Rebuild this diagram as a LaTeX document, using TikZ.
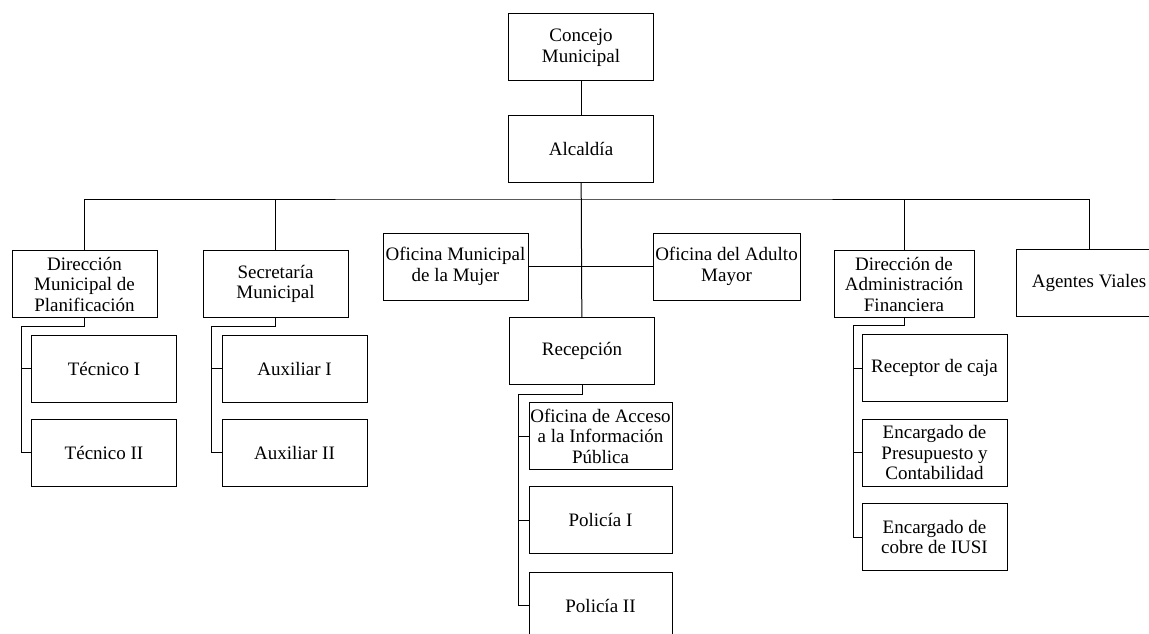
\documentclass[tikz,border=0pt]{standalone}
\usepackage{fontspec}
\setmainfont{Liberation Serif}
\usepackage{tikz}
\usetikzlibrary{positioning}

\begin{document}
\begin{tikzpicture}[x=1pt,y=-1pt,
  unidad/.style={draw,line width=1pt,minimum width=145pt,minimum height=67pt,
    inner sep=1pt,align=center,font=\fontsize{19}{20.5}\selectfont},
  rama/.style={line width=1pt}]

\useasboundingbox (0,0) rectangle (1149,634);
\clip (0,0) rectangle (1149,634);

%top of the chart
\node[unidad] (concejo) at (581,47.5) {Concejo\\Municipal};
\node[unidad] (alcaldia) at (581,148.5) {Alcaldía};

%second level
\node[unidad] (dmp) at (84.5,284) {Dirección\\Municipal de\\Planificación};
\node[unidad] (secre) at (275.5,284) {Secretaría\\Municipal};
\node[unidad] (mujer) at (455.5,266.5) {Oficina Municipal\\de la Mujer};
\node[unidad,minimum width=147pt] (adulto) at (726.5,266.5) {Oficina del Adulto\\Mayor};
\node[unidad] (recep) at (582,351) {Recepción};
\node[unidad,minimum width=140pt] (daf) at (904,284) {Dirección de\\Administración\\Financiera};
\node[unidad,minimum width=146pt] (agentes) at (1089,283) {Agentes Viales};

%third level
\node[unidad] (tec1) at (104,368.5) {Técnico I};
\node[unidad] (tec2) at (104,452.5) {Técnico II};
\node[unidad] (aux1) at (294.5,368.5) {Auxiliar I};
\node[unidad] (aux2) at (294.5,452.5) {Auxiliar II};
\node[unidad,minimum width=143pt] (acceso) at (600.5,436) {Oficina de Acceso\\a la Información\\Pública};
\node[unidad,minimum width=143pt] (pol1) at (600.5,520) {Policía I};
\node[unidad,minimum width=143pt] (pol2) at (600.5,605.5) {Policía II};
\node[unidad] (caja) at (934.5,368) {Receptor de caja};
\node[unidad] (presup) at (934.5,452.5) {Encargado de\\Presupuesto y\\Contabilidad};
\node[unidad] (iusi) at (934.5,537) {Encargado de\\cobre de IUSI};

%main connectors
\coordinate (bus) at (581,199);
\draw[rama] (concejo) -- (alcaldia);
\draw[rama] (alcaldia) -- (recep);
\draw[rama] (dmp.north) |- (bus) -| (agentes.north);
\draw[rama] (secre.north) -- (secre.north |- bus);
\draw[rama] (daf.north) -- (daf.north |- bus);
\draw[rama] (mujer.east) -- (adulto.west);

%branches below each unit
\draw[rama] (dmp.south) -- ++(0,8) -| ([xshift=-10pt]tec2.west) -- (tec2.west);
\draw[rama] (tec1.west) -- ++(-10,0);
\draw[rama] (secre.south) -- ++(0,8) -| ([xshift=-10pt]aux2.west) -- (aux2.west);
\draw[rama] (aux1.west) -- ++(-10,0);
\draw[rama] (recep.south) -- ++(0,9) -| ([xshift=-10pt]pol2.west) -- (pol2.west);
\draw[rama] (acceso.west) -- ++(-10,0);
\draw[rama] (pol1.west) -- ++(-10,0);
\draw[rama] (daf.south) -- ++(0,7) -| ([xshift=-8pt]iusi.west) -- (iusi.west);
\draw[rama] (caja.west) -- ++(-8,0);
\draw[rama] (presup.west) -- ++(-8,0);

\end{tikzpicture}
\end{document}
